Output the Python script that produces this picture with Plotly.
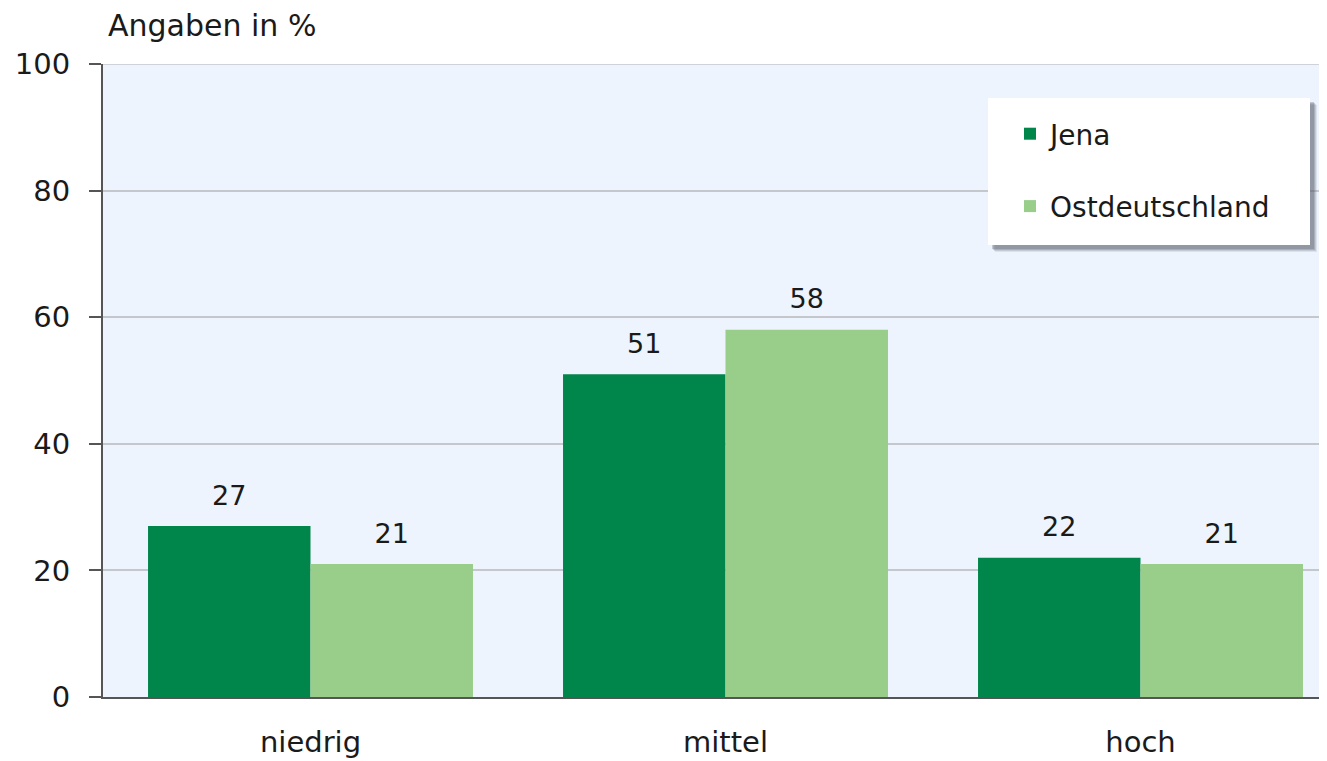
import plotly.graph_objects as go

categories = ["niedrig", "mittel", "hoch"]
jena = [27, 51, 22]
ost = [21, 58, 21]
series_names = ["Jena", "Ostdeutschland"]
y_ticks = [0, 20, 40, 60, 80, 100]
y_title = "Angaben in %"

c_jena = "#00854A"
c_ost = "#98CD8A"
bg = "#EDF4FD"
FONT = "DejaVu Sans"

# page has an 8px body margin; size the figure so it ends at the window edge
OFF = 8
W, H = 1327 - OFF, 761 - OFF
L, R, T, B = 103 - OFF, 0, 64 - OFF, 64
pw, ph = W - L - R, H - T - B

fig = go.Figure()
for name, vals, col in [(series_names[0], jena, c_jena), (series_names[1], ost, c_ost)]:
    fig.add_trace(go.Bar(x=categories, y=vals, name=name, marker=dict(color=col, line=dict(width=0)),
                         offsetgroup=name, legendgroup=name))
for name, vals in [(series_names[0], jena), (series_names[1], ost)]:
    fig.add_trace(go.Scatter(x=categories, y=vals, mode="markers+text", text=[str(v) for v in vals],
                             textposition="top center", offsetgroup=name, showlegend=False,
                             marker=dict(size=22, opacity=0), cliponaxis=False,
                             textfont=dict(family=FONT, size=27, color="#1a1a1a"), hoverinfo="skip"))

def px_x(p):
    return (p - OFF - L) / pw

def px_y(p):
    return (H + OFF - B - p) / ph

# legend box with shadow
bx0, bx1, by0, by1 = 988, 1310, 98, 245
shapes = [dict(type="line", xref="paper", yref="y", x0=0, x1=1, y0=100, y1=100,
               line=dict(color="#C4C7CC", width=1.5), layer="below")]
for off, op in [(7, 0.12), (6, 0.18), (5, 0.25), (4, 0.3)]:
    shapes.append(dict(type="rect", xref="paper", yref="paper",
                       x0=px_x(bx0 + off), x1=px_x(bx1 + off), y0=px_y(by1 + off), y1=px_y(by0 + off),
                       fillcolor=f"rgba(90,95,110,{op})", line=dict(width=0), layer="above"))
shapes.append(dict(type="rect", xref="paper", yref="paper",
                   x0=px_x(bx0), x1=px_x(bx1), y0=px_y(by1), y1=px_y(by0),
                   fillcolor="white", line=dict(width=0), layer="above"))

fig.update_layout(
    width=W, height=H,
    margin=dict(l=L, r=R, t=T, b=B, autoexpand=False),
    paper_bgcolor="white", plot_bgcolor=bg,
    barmode="group", bargap=0.217, bargroupgap=0, scattermode="group",
    font=dict(family=FONT, size=29, color="#1a1a1a"),
    showlegend=True,
    legend=dict(x=px_x(1010), y=px_y(109), xanchor="left", yanchor="top",
                bgcolor="rgba(0,0,0,0)", borderwidth=0, traceorder="grouped", tracegroupgap=33,
                font=dict(family=FONT, size=28, color="#1a1a1a")),
    shapes=shapes,
    annotations=[dict(text=y_title, xref="paper", yref="paper", x=px_x(106), y=px_y(26),
                      xanchor="left", yanchor="middle", showarrow=False,
                      font=dict(family=FONT, size=30, color="#1a1a1a"))],
)
fig.update_xaxes(range=[-0.5, -0.5 + pw / 415], showline=True, linecolor="#555555", linewidth=2,
                 ticks="", showgrid=False, ticklabelstandoff=18, tickfont=dict(size=29))
fig.update_yaxes(range=[0, 100], tickvals=y_ticks, showline=True, linecolor="#555555", linewidth=2,
                 ticks="outside", ticklen=12, tickcolor="#555555", tickwidth=2,
                 showgrid=True, gridcolor="#C4C7CC", gridwidth=1.5, zeroline=False,
                 ticklabelstandoff=13, tickfont=dict(size=29))

fig.write_html("out.html")
